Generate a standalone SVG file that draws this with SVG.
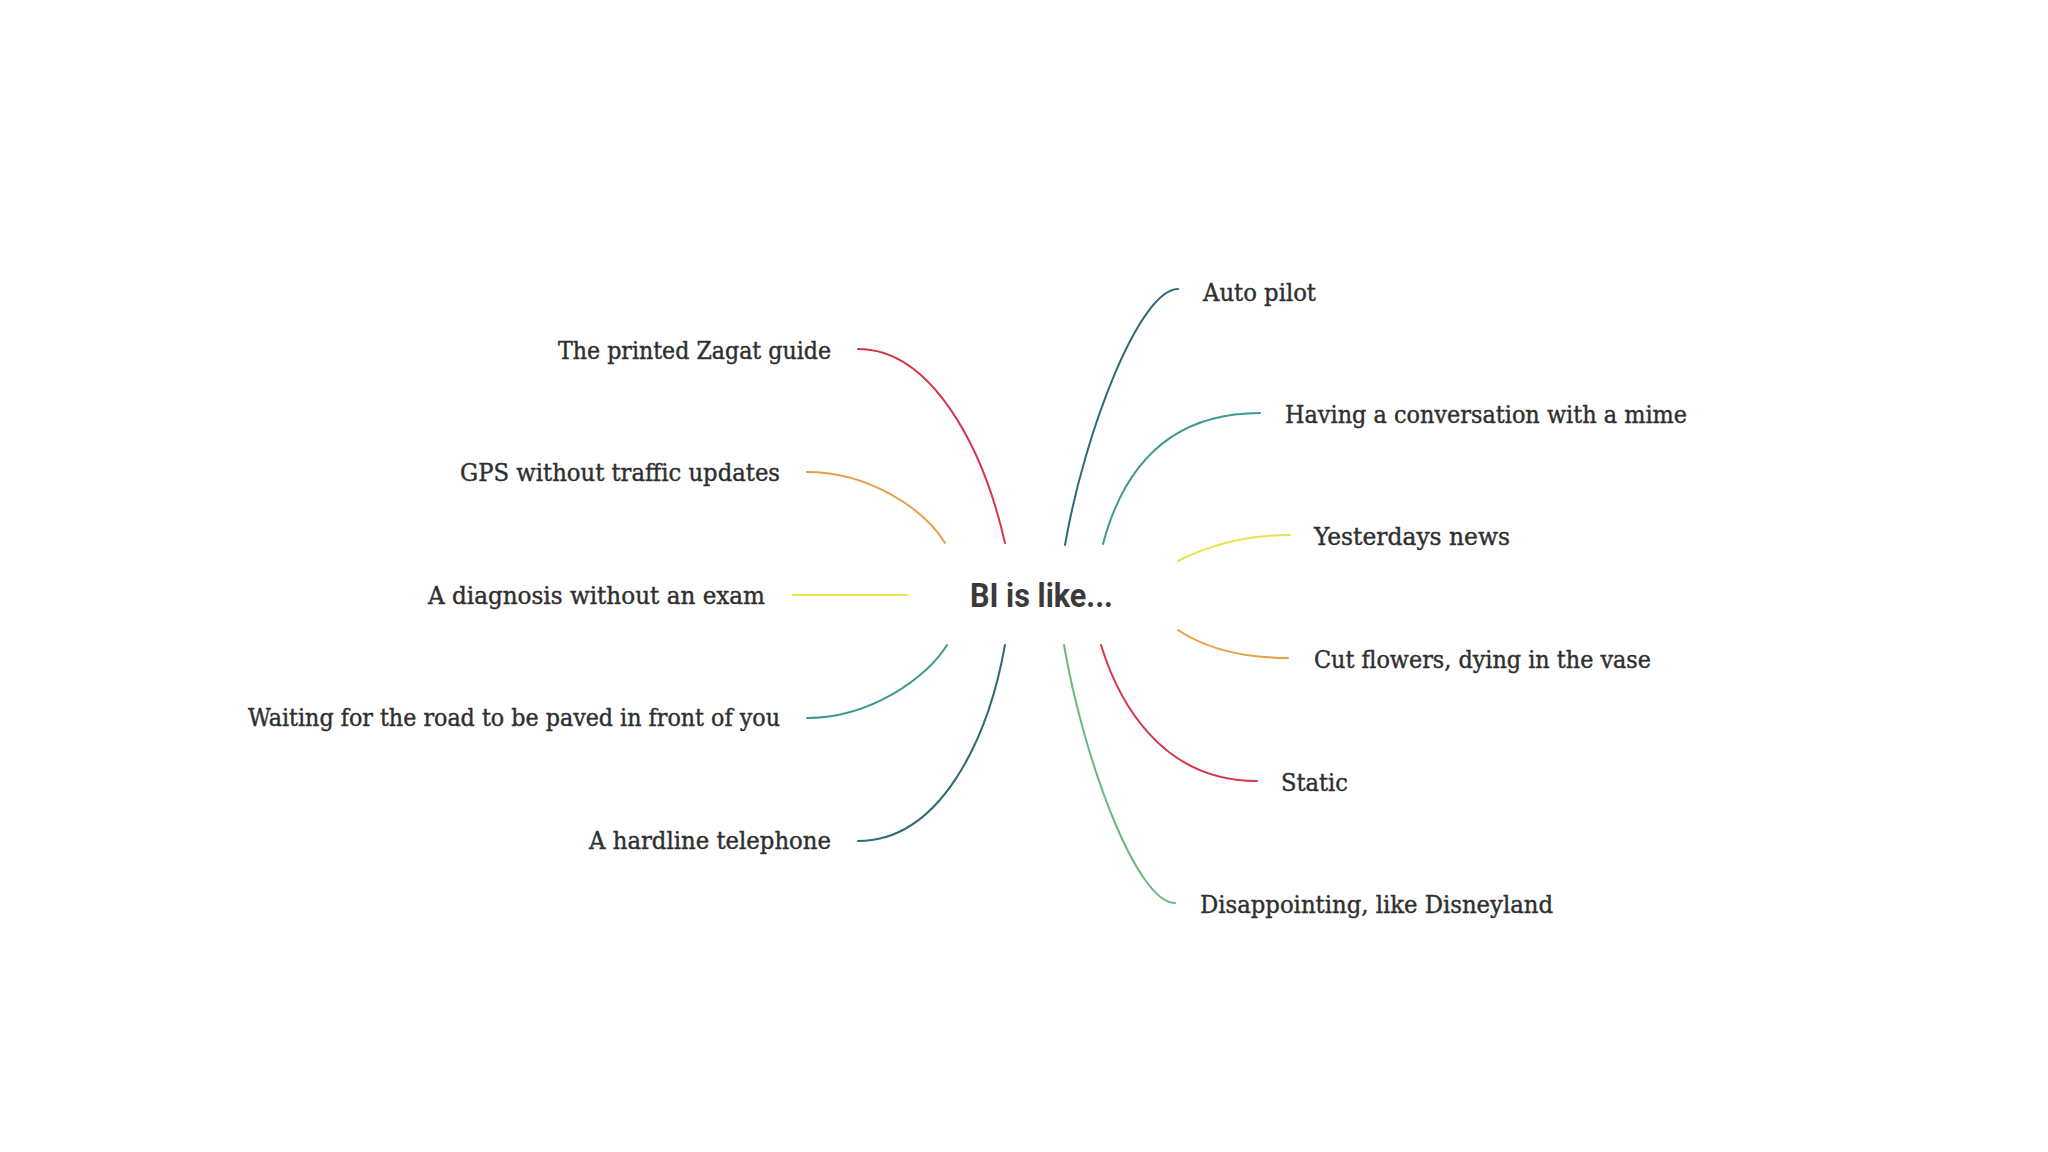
<svg xmlns="http://www.w3.org/2000/svg" width="2048" height="1152" viewBox="0 0 2048 1152">
<style>
.lbl{font-family:"DejaVu Serif Condensed","DejaVu Serif","Liberation Serif",serif;font-size:25px;fill:#2f2f2f;stroke:#2f2f2f;stroke-width:0.4}
.ttl{font-family:Roboto,"Liberation Sans",sans-serif;font-size:34px;font-weight:bold;fill:#3a3a3a}
.c{fill:none;stroke-width:2;stroke-linecap:round}
.red{stroke:#d8344a}.orange{stroke:#e6a048}.yellow{stroke:#e4e44c}.teal{stroke:#3f9a8e}.dteal{stroke:#2f6b74}.green{stroke:#6cb87c}
</style>
<rect width="2048" height="1152" fill="#ffffff"/>
<g id="connectors">
<path class="c dteal" d="M1065,545 C1085,430 1140,289 1178,289"/>
<path class="c teal" d="M1103,544 C1120,480 1160,413 1260,413"/>
<path class="c yellow" d="M1178,561 C1210,545 1245,535 1290,535"/>
<path class="c orange" d="M1178,630 C1205,648 1240,658 1288,658"/>
<path class="c red" d="M1101,645 C1118,700 1160,781 1257,781"/>
<path class="c green" d="M1064,645 C1084,761 1137,903 1175,903"/>
<path class="c red" d="M1005,543 C983,446 931,349 858,349"/>
<path class="c orange" d="M945,543 C925,510 870,472 807,472"/>
<path class="c yellow" d="M907,595 L793,595"/>
<path class="c teal" d="M947,645 C927,678 870,718 807,718"/>
<path class="c dteal" d="M1005,645 C988,740 940,841 858,841"/>
</g>
<g id="center"><text class="ttl" x="970" y="607" textLength="143" lengthAdjust="spacingAndGlyphs">BI is like...</text></g>
<g id="n-autopilot"><text class="lbl" x="1203" y="301" textLength="113" lengthAdjust="spacingAndGlyphs">Auto pilot</text></g>
<g id="n-mime"><text class="lbl" x="1285" y="423" textLength="402" lengthAdjust="spacingAndGlyphs">Having a conversation with a mime</text></g>
<g id="n-news"><text class="lbl" x="1314" y="545" textLength="196" lengthAdjust="spacingAndGlyphs">Yesterdays news</text></g>
<g id="n-flowers"><text class="lbl" x="1314" y="668" textLength="337" lengthAdjust="spacingAndGlyphs">Cut flowers, dying in the vase</text></g>
<g id="n-static"><text class="lbl" x="1281" y="791" textLength="67" lengthAdjust="spacingAndGlyphs">Static</text></g>
<g id="n-disney"><text class="lbl" x="1200" y="913" textLength="353" lengthAdjust="spacingAndGlyphs">Disappointing, like Disneyland</text></g>
<g id="n-zagat"><text class="lbl" x="558" y="359" textLength="273" lengthAdjust="spacingAndGlyphs">The printed Zagat guide</text></g>
<g id="n-gps"><text class="lbl" x="460" y="481" textLength="320" lengthAdjust="spacingAndGlyphs">GPS without traffic updates</text></g>
<g id="n-diagnosis"><text class="lbl" x="428" y="604" textLength="337" lengthAdjust="spacingAndGlyphs">A diagnosis without an exam</text></g>
<g id="n-road"><text class="lbl" x="248" y="726" textLength="532" lengthAdjust="spacingAndGlyphs">Waiting for the road to be paved in front of you</text></g>
<g id="n-telephone"><text class="lbl" x="589" y="849" textLength="242" lengthAdjust="spacingAndGlyphs">A hardline telephone</text></g>
</svg>
